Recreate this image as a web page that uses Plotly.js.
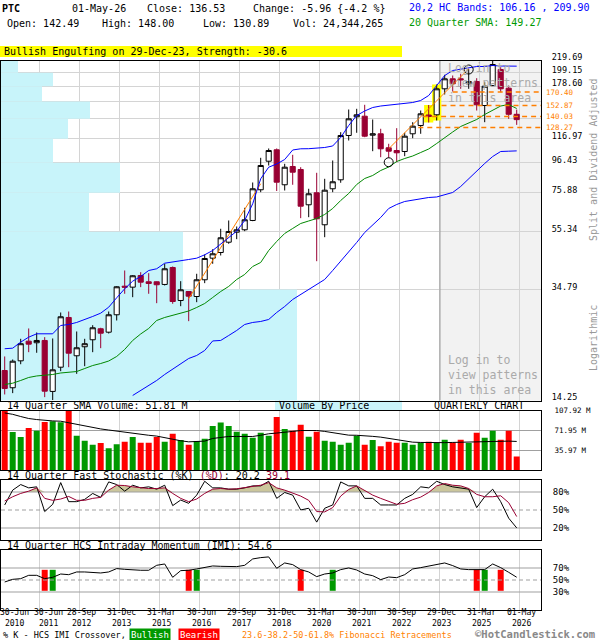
<!DOCTYPE html>
<html><head><meta charset="utf-8">
<script src="https://cdn.plot.ly/plotly-3.0.1.min.js"></script>
<style>html,body{margin:0;padding:0;background:#fff}#chart{width:600px;height:640px}</style>
</head><body><div id="chart"></div>
<script>
// ---------------- DATA (quarterly, Q2-2010 .. Q2-2026) ----------------
const openP = [
 18.14,15.79,19.61,22.97,22.68,23.10,15.33,18.63,27.79,20.42,
 21.96,23.23,25.38,24.69,28.40,35.75,35.47,38.96,37.04,37.04,
 36.25,41.55,31.86,34.25,32.90,37.64,44.78,46.88,50.93,55.20,
 56.28,60.65,77.64,97.72,107.11,80.83,93.64,91.41,68.81,75.79,
 58.59,78.27,84.13,120.17,139.67,140.35,120.46,121.82,108.85,106.50,
 105.65,121.82,130.24,141.71,141.94,174.96,189.62,189.62,182.14,185.54,
 152.96,179.67,204.35,175.82,142.49];
const highP = [
 20.31,19.82,23.41,25.44,24.63,23.72,23.47,28.93,29.16,24.83,
 23.41,26.12,25.58,29.16,35.75,40.56,39.06,40.01,39.69,37.13,
 42.81,41.89,37.22,34.25,39.50,46.13,48.14,56.73,60.65,57.79,
 67.17,82.33,100.43,108.24,108.24,95.70,102.88,93.11,78.27,89.01,
 84.81,98.27,123.40,148.12,148.95,153.82,136.67,126.82,112.41,127.45,
 122.81,133.74,146.93,153.58,181.12,195.82,194.72,197.40,205.00,190.55,
 184.50,219.00,208.16,179.67,148.00];
const lowP = [
 14.96,15.12,19.08,21.02,20.92,14.64,14.30,18.04,18.63,17.66,
 18.78,21.02,21.71,24.43,27.13,33.63,32.72,35.47,33.63,31.18,
 35.95,31.03,30.43,26.98,31.43,36.63,42.81,45.76,50.28,52.18,
 55.65,60.31,76.15,94.40,76.89,77.20,80.83,61.79,62.28,43.71,
 53.02,76.15,82.14,115.43,122.81,118.53,105.90,100.91,100.43,96.93,
 101.73,117.59,121.82,133.42,135.58,167.12,171.20,174.96,174.96,146.93,
 133.74,178.66,170.23,137.44,130.89];
const closeP = [
 15.70,19.55,22.50,22.42,23.10,15.36,18.24,27.95,20.85,21.78,
 22.50,25.58,24.49,28.40,35.58,35.47,38.87,36.92,36.54,36.16,
 41.12,31.60,34.73,32.98,37.64,44.67,46.39,52.77,55.51,56.28,
 60.99,78.27,94.40,106.50,82.53,93.11,89.44,68.04,75.18,61.48,
 77.39,82.80,120.17,137.44,141.94,119.50,121.82,107.97,105.90,104.55,
 119.50,129.51,143.08,140.01,174.96,189.62,182.14,188.09,185.54,153.82,
 178.66,212.73,174.96,142.49,136.53];
const upperBand = [
 21.61,21.71,22.79,23.72,24.37,24.37,24.37,26.06,26.27,26.70,
 27.28,28.02,28.77,30.19,32.56,35.01,37.22,38.65,40.56,41.12,
 43.01,43.36,43.71,44.31,44.78,46.02,47.64,50.28,53.02,55.65,
 60.65,69.36,84.81,93.11,95.54,99.06,106.94,107.97,108.06,108.67,
 109.11,110.44,118.25,130.24,141.14,146.34,150.52,152.35,153.58,154.82,
 155.44,156.70,159.24,165.78,179.67,194.72,202.71,205.17,207.66,209.34,
 209.34,211.03,210.18,210.18,209.90];
const lowerBand = [
 null,null,null,null,null,null,null,null,null,null,
 null,null,null,null,null,null,14.84,15.45,16.08,16.74,
 17.57,18.36,19.19,19.98,20.47,21.31,23.01,23.10,24.04,25.03,
 26.27,26.70,26.91,27.35,28.93,30.36,32.12,33.44,34.82,36.25,
 37.73,40.56,43.61,47.26,50.81,55.07,58.26,62.13,66.79,68.98,
 70.66,71.52,72.39,72.97,73.27,74.76,75.97,79.73,85.02,90.67,
 95.93,101.48,105.65,105.90,106.16];
const sma20 = [
 16.21,16.38,16.74,17.15,17.36,17.42,17.57,17.78,17.85,17.99,
 18.43,18.88,19.19,19.58,20.31,21.49,23.10,24.34,25.44,27.13,
 27.79,28.24,28.81,29.28,30.12,31.10,32.64,34.25,35.67,37.73,
 39.28,41.89,43.26,47.64,51.22,54.63,56.87,59.20,60.41,61.63,
 63.65,66.79,71.23,75.36,81.02,85.02,87.10,90.67,93.26,97.48,
 99.86,101.89,104.80,107.80,112.68,118.25,123.60,129.19,132.88,136.67,
 142.28,146.93,152.35,154.20,149.27];
const volumeM = [
 110,68.9,59.8,76.2,71.3,87.2,88.4,86.6,112,62.2,
 53.0,45.7,48.8,39.6,46.9,51.2,59.8,49.4,49.4,59.8,
 51.2,65.8,54.3,45.7,52.4,56.7,79.9,86.0,79.9,69.5,
 65.8,58.5,67.7,62.2,96.3,74.4,71.3,82.3,60.4,69.5,
 53.0,51.2,45.7,49.4,62.2,45.7,54.3,43.3,51.2,49.4,
 49.4,45.7,50.0,51.2,48.8,54.9,50.0,54.9,48.8,67.7,
 58.5,71.3,54.9,71.3,24.34];
const volSma14 = [
 103.5,101,97,93.4,91.5,89.6,89,88.5,85.5,82.4,
 79.5,76.5,74.5,72.5,70.4,68,66.2,64.5,63,61.5,
 58.5,55.4,53,51.1,51.5,52.4,57.2,59,60.8,60.8,
 60.8,60.8,63,65.7,67,68,70,71.6,71.6,71.6,
 70,68,65.5,63.2,63,62.6,61,59.6,57.5,55.4,
 53,50.5,50,49.6,49.4,49.6,50,50.5,50.8,51,
 51.1,51.8,52.4,52.4,51.81];
const stochK = [
 58.4,83.1,92.4,86.9,88.6,47.4,59.5,95.7,63.9,63.9,
 67.7,77.6,71.0,96.8,92.4,81.4,91.3,86.9,88.6,84.7,
 91.3,57.3,66.6,61.1,74.8,97.9,86.9,86.9,84.7,84.7,
 86.9,90.2,90.2,97.9,69.4,79.2,74.8,50.1,52.9,29.8,
 52.9,58.4,96.8,90.2,90.2,69.4,69.4,58.4,58.4,58.4,
 69.4,76.0,88.6,86.9,97.9,92.4,88.6,86.9,84.7,54.0,
 72.1,84.7,63.9,36.4,20.2];
const stochD = [
 65.0,72.1,77.6,81.4,86.9,69.4,66.1,68.3,72.6,66.1,
 66.1,69.4,71.0,83.1,91.3,90.8,88.6,86.9,85.8,85.8,
 86.9,77.6,69.4,63.9,68.3,77.6,84.7,85.8,84.7,85.3,
 86.9,89.1,91.3,95.7,86.9,83.1,77.6,73.2,66.1,47.4,
 46.8,54.0,73.2,84.2,90.2,82.5,74.8,69.4,63.9,59.5,
 61.1,67.2,71.5,79.2,90.2,94.1,91.3,90.2,85.8,76.0,
 72.1,72.1,73.7,62.2,39.1];
const imi = [
 46.7,51.1,52.2,57.8,57.8,52.2,54.5,60.0,58.9,63.4,
 63.4,62.8,61.7,63.4,69.0,67.8,66.7,66.2,66.2,74.5,
 76.7,54.5,65.6,66.2,68.4,70.6,73.4,72.8,72.3,72.3,
 74.5,85.1,87.3,88.5,69.5,78.4,75.6,67.3,63.4,55.6,
 60.0,61.7,67.3,70.1,66.7,60.0,57.2,50.6,55.0,53.9,
 58.9,68.4,70.6,73.4,76.7,78.4,74.0,68.4,67.3,66.7,
 67.3,76.7,70.6,62.8,54.6];
const crossIdx  = [5,6,23,24,37,41,59,60,62];
const crossType = ["bear","bull","bear","bull","bear","bull","bear","bull","bear"];
const crossLow = 32, crossHigh = 67;
const stochLevels = [20,50,80];
const imiLevels = [30,50,70];

const priceTicks = [14.25,34.79,55.34,75.88,96.43,116.97,137.52,158.06,178.60,199.15,219.69];
const priceTickText = ["14.25","34.79","55.34","75.88","96.43","116.97","","","178.60","199.15","219.69"];
const vbpVolume = [1480,910,440,595,260,335,445,205,260,85]; // per price bin, bottom -> top
const fibLevels = [170.40,152.87,140.03,128.27];
const fibStartIdx = [56,54.6,52.3,51.7];
const trendIdx1 = [23,32],  trendPrice1 = [32.3,81.5];
const trendIdx2 = [48,58],  trendPrice2 = [107.97,205.5];
const pivotIdx = [48,58],   pivotPrice = [96.9,204.3];
const patternIdx = [53,54];
const xLabelDay  = ["30-Jun","30-Jun","28-Sep","31-Dec","31-Mar","30-Jun","29-Sep","31-Dec","31-Mar","30-Jun","30-Sep","29-Dec","31-Mar","01-May"];
const xLabelYear = ["2010","2011","2012","2013","2015","2016","2017","2018","2020","2021","2022","2023","2025","2026"];
const volTicks = [35.97,71.95,107.92];

// ---------------- LAYOUT HELPERS ----------------
const W = 600, H = 640;
const MONO = '"DejaVu Sans Mono", "Liberation Mono", monospace';
const px = v => v / W, py = v => 1 - v / H;
const X_MIN = -0.4625, X_MAX = 67.0375;
const VBP_FULL = 2700;
const qIdx = openP.map((_, i) => i);
const gridTicks = xLabelDay.slice(1).map((_, k) => 4.41 + 5 * k);
const RED = '#990033', BLUE = '#0000ff', GREEN = '#008800', ORANGE = '#ff7f00';
const PRICE_RANGE = [Math.log10(priceTicks[0]), Math.log10(priceTicks[priceTicks.length - 1])];

const traces = [];
// ---- base price subplot (x, y): volume by price + locked-area boundary
vbpVolume.forEach((v, k) => {
  const lo = priceTicks[k], hi = priceTicks[k + 1];
  const xr = X_MIN + v / VBP_FULL * (X_MAX - X_MIN);
  traces.push({type:'scatter', mode:'lines', x:[X_MIN, xr, xr, X_MIN, X_MIN], y:[lo, lo, hi, hi, lo],
    fill:'toself', fillcolor:'#c8f4fa', line:{width:0}, hoverinfo:'skip', xaxis:'x', yaxis:'y'});
});
traces.push({type:'scatter', mode:'lines', x:[gridTicks[10], gridTicks[10]], y:[priceTicks[0], priceTicks[priceTicks.length-1]],
  line:{color:'#999', width:1}, xaxis:'x', yaxis:'y'});
// ---- label axis for fib levels (invisible markers)
traces.push({type:'scatter', mode:'markers', x:fibStartIdx, y:fibLevels, marker:{opacity:0}, xaxis:'x', yaxis:'y5'});
// ---- overlay price subplot (x, y6)
traces.push({type:'bar', x:patternIdx, base:patternIdx.map(i => lowP[i]),
  y:patternIdx.map(i => highP[i] - lowP[i]), width:1.15, marker:{color:'#ffff00', line:{width:0}},
  hoverinfo:'skip', xaxis:'x', yaxis:'y6'});
traces.push({type:'candlestick', x:qIdx, open:openP, high:highP, low:lowP, close:closeP,
  increasing:{line:{color:'#000000', width:1}, fillcolor:'#ffffff'},
  decreasing:{line:{color:RED, width:1}, fillcolor:RED},
  whiskerwidth:0, hoverinfo:'skip', xaxis:'x', yaxis:'y6'});
traces.push({type:'scatter', mode:'lines', x:trendIdx1, y:trendPrice1, line:{color:ORANGE, width:1}, xaxis:'x', yaxis:'y6'});
traces.push({type:'scatter', mode:'lines', x:trendIdx2, y:trendPrice2, line:{color:ORANGE, width:1}, xaxis:'x', yaxis:'y6'});
traces.push({type:'scatter', mode:'lines', x:qIdx, y:upperBand, line:{color:BLUE, width:1}, xaxis:'x', yaxis:'y6'});
traces.push({type:'scatter', mode:'lines', x:qIdx, y:lowerBand, line:{color:BLUE, width:1}, xaxis:'x', yaxis:'y6'});
traces.push({type:'scatter', mode:'lines', x:qIdx, y:sma20, line:{color:GREEN, width:1}, xaxis:'x', yaxis:'y6'});
traces.push({type:'scatter', mode:'markers', x:pivotIdx, y:pivotPrice,
  marker:{symbol:'circle-open', size:9, color:'#000', line:{width:1, color:'#000'}}, xaxis:'x', yaxis:'y6'});
fibLevels.forEach((lv, k) => {
  traces.push({type:'scatter', mode:'lines', x:[fibStartIdx[k], X_MAX], y:[lv, lv],
    line:{color:ORANGE, width:1.5, dash:'5px,4px'}, xaxis:'x', yaxis:'y6'});
});
// ---- volume
traces.push({type:'bar', x:qIdx, y:volumeM, width:0.75,
  marker:{color:qIdx.map(i => closeP[i] >= openP[i] ? '#009900' : '#ff0000'), line:{width:0}},
  xaxis:'x2', yaxis:'y2'});
traces.push({type:'scatter', mode:'lines', x:qIdx, y:volSma14, line:{color:'#000', width:1}, xaxis:'x2', yaxis:'y2'});
// ---- stochastic
traces.push({type:'scatter', mode:'lines', x:qIdx, y:qIdx.map(() => stochLevels[2]), line:{width:0, color:'rgba(0,0,0,0)'}, xaxis:'x3', yaxis:'y3'});
traces.push({type:'scatter', mode:'lines', x:qIdx, y:stochD.map(v => Math.max(v, stochLevels[2])), fill:'tonexty',
  fillcolor:'#cbc69c', line:{width:0, color:'rgba(0,0,0,0)'}, xaxis:'x3', yaxis:'y3'});
stochLevels.forEach(lv => traces.push({type:'scatter', mode:'lines', x:[X_MIN, X_MAX], y:[lv, lv],
  line:{color:'#a0a0a0', width:1.2, dash: lv === 50 ? '4px,3px' : 'solid'}, xaxis:'x3', yaxis:'y3'}));
traces.push({type:'scatter', mode:'lines', x:qIdx, y:stochK, line:{color:'#000', width:1}, xaxis:'x3', yaxis:'y3'});
traces.push({type:'scatter', mode:'lines', x:qIdx, y:stochD, line:{color:RED, width:1}, xaxis:'x3', yaxis:'y3'});
// ---- IMI
imiLevels.forEach(lv => traces.push({type:'scatter', mode:'lines', x:[X_MIN, X_MAX], y:[lv, lv],
  line:{color:'#a0a0a0', width:1.2, dash: lv === 50 ? '4px,3px' : 'solid'}, xaxis:'x4', yaxis:'y4'}));
traces.push({type:'bar', x:crossIdx, base:crossIdx.map(() => crossLow), y:crossIdx.map(() => crossHigh - crossLow),
  width:0.75, marker:{color:crossType.map(t => t === 'bull' ? '#009900' : '#ff0000'), line:{width:0}},
  xaxis:'x4', yaxis:'y4'});
traces.push({type:'scatter', mode:'lines', x:qIdx, y:imi, line:{color:'#000', width:1}, xaxis:'x4', yaxis:'y4'});

// ---------------- AXES ----------------
const xDom = [px(1), px(541)];
const baseX = {domain:xDom, range:[X_MIN, X_MAX], tickvals:gridTicks, ticks:'', showticklabels:false,
  showgrid:true, gridcolor:'#d4d4d4', gridwidth:1, zeroline:false, showline:true, mirror:true,
  linecolor:'#000', linewidth:1, fixedrange:true, rangeslider:{visible:false}};
const baseY = {side:'right', ticks:'', showline:true, mirror:true, linecolor:'#000', linewidth:1,
  zeroline:false, fixedrange:true, automargin:false, tickfont:{family:MONO, size:9, color:'#000'}};
const hiddenLogY = {overlaying:'y', anchor:'x', side:'right', type:'log', range:PRICE_RANGE, ticks:'',
  showgrid:false, showline:false, zeroline:false, fixedrange:true, automargin:false};

const layout = {
  width:W, height:H, margin:{l:0, r:0, t:0, b:0}, paper_bgcolor:'#fff', plot_bgcolor:'#fff',
  showlegend:false, hovermode:false, boxgap:0.2, boxgroupgap:0.2,
  xaxis: Object.assign({}, baseX, {anchor:'y'}),
  xaxis2: Object.assign({}, baseX, {anchor:'y2', matches:'x'}),
  xaxis3: Object.assign({}, baseX, {anchor:'y3', matches:'x'}),
  xaxis4: Object.assign({}, baseX, {anchor:'y4', matches:'x'}),
  yaxis: Object.assign({}, baseY, {domain:[py(400.5), py(60.5)], anchor:'x', type:'log',
    range:PRICE_RANGE, tickvals:priceTicks, ticktext:priceTickText,
    showgrid:true, gridcolor:'#d4d4d4', tickfont:{family:MONO, size:8.5, color:'#000'},
    ticklabelshift:-3, ticklabelstandoff:8}),
  yaxis5: Object.assign({}, hiddenLogY, {tickvals:fibLevels, ticktext:fibLevels.map(v => v.toFixed(2)),
    ticklabelstandoff:4, tickfont:{family:MONO, size:7.5, color:ORANGE}}),
  yaxis6: Object.assign({}, hiddenLogY, {showticklabels:false}),
  yaxis2: Object.assign({}, baseY, {domain:[py(470), py(410.5)], anchor:'x2', range:[0, 107.92],
    tickvals:volTicks, ticktext:volTicks.map(v => v.toFixed(2) + ' M'), showgrid:true, gridcolor:'#a0a0a0',
    tickfont:{family:MONO, size:7.5, color:'#000'}, ticklabelstandoff:11}),
  yaxis3: Object.assign({}, baseY, {domain:[py(540), py(480)], anchor:'x3', range:[0, 100],
    tickvals:stochLevels, ticktext:stochLevels.map(v => v + '%'), showgrid:false, ticklabelstandoff:9}),
  yaxis4: Object.assign({}, baseY, {domain:[py(610), py(550)], anchor:'x4', range:[0, 100],
    tickvals:imiLevels, ticktext:imiLevels.map(v => v + '%'), showgrid:false, ticklabelstandoff:9}),
  shapes: [], annotations: []
};

// locked (gray) area
layout.shapes.push({type:'rect', xref:'x', yref:'y domain', x0:gridTicks[10], x1:X_MAX, y0:0, y1:1,
  fillcolor:'#f2f2f2', line:{width:0}, layer:'below'});
// label backgrounds
layout.shapes.push({type:'rect', xref:'paper', yref:'paper', x0:0, x1:px(402), y0:py(57), y1:py(46),
  fillcolor:'#ffff00', line:{width:0}, layer:'below'});
layout.shapes.push({type:'rect', xref:'paper', yref:'paper', x0:px(275), x1:px(402), y0:py(410.5), y1:py(400.5),
  fillcolor:'#c8f4fa', line:{width:0}, layer:'below'});

function txt(text, x, y, opts) {
  layout.annotations.push(Object.assign({xref:'paper', yref:'paper', x:px(x), y:py(y), text:text,
    showarrow:false, xanchor:'left', yanchor:'middle', align:'left',
    font:{family:MONO, size:10, color:'#000'}}, opts || {}));
}
txt('<b>PTC</b>', 0, 9);
txt('01-May-26', 70, 9);
txt('Close: 136.53', 145, 9);
txt('Change: -5.96 {-4.2 %}', 251, 9);
txt('Open: 142.49', 4.5, 24);
txt('High: 148.00', 100, 24);
txt('Low: 130.89', 201, 24);
txt('Vol: 24,344,265', 291, 24);
txt('20,2 HC Bands: 106.16 , 209.90', 406.5, 7, {font:{family:MONO, size:10, color:BLUE}});
txt('20 Quarter SMA: 149.27', 406.5, 23, {font:{family:MONO, size:10, color:'#009900'}});
txt('Bullish Engulfing on 29-Dec-23, Strength: -30.6', 1.5, 51.5);
txt('14 Quarter SMA Volume: 51.81 M', 4.5, 405.5);
txt('Volume By Price', 277, 405.5);
txt('QUARTERLY CHART', 431.5, 405.5);
txt('14 Quarter Fast Stochastic (%K) <span style="color:#990033">(%D)</span>: 20.2 <span style="color:#990033">39.1</span>', 4.5, 475.5);
txt('14 Quarter HCS Intraday Momentum (IMI): 54.6', 4.5, 545.5);
txt('Log in to<br>view patterns<br>in this area', 446, 59, {yanchor:'top', font:{family:MONO, size:11.5, color:'#aaaaaa'}});
txt('Log in to<br>view patterns<br>in this area', 446, 351, {yanchor:'top', font:{family:MONO, size:11.5, color:'#aaaaaa'}});
txt('Split and Dividend Adjusted', 593, 160, {xanchor:'center', textangle:-90, font:{family:MONO, size:10, color:'#999'}});
txt('Logarithmic', 593, 338, {xanchor:'center', textangle:-90, font:{family:MONO, size:10, color:'#999'}});
txt('% K - HCS IMI Crossover,', 1, 634.5, {font:{family:MONO, size:8.5, color:'#000'}});
txt('Bullish', 129, 634.5, {bgcolor:'#009900', borderpad:1, font:{family:MONO, size:9, color:'#fff'}});
txt('Bearish', 178, 634.5, {bgcolor:'#ff0000', borderpad:1, font:{family:MONO, size:9, color:'#fff'}});
txt('23.6-38.2-50-61.8% Fibonacci Retracements', 240, 634.5, {font:{family:MONO, size:8.5, color:ORANGE}});
txt('<b>©HotCandlestick.com</b>', 597, 634.3, {xanchor:'right', font:{family:MONO, size:10.5, color:'#888'}});

// x-axis date labels placed through the bottom panel's x scale
const labelPos = [0].concat(gridTicks);
const labelShift = xLabelDay.map((_, k) => k === 0 ? 10 : (k === 1 ? 9 : 2));
xLabelDay.forEach((d, k) => {
  layout.annotations.push({xref:'x4', yref:'paper', x:labelPos[k], xshift:labelShift[k], y:py(617.3),
    text:d + '<br>' + xLabelYear[k], showarrow:false, xanchor:'center', yanchor:'middle', align:'center',
    font:{family:MONO, size:8.1, color:'#000'}});
});

Plotly.newPlot('chart', traces, layout, {staticPlot:true, displayModeBar:false});
</script>
</body></html>
